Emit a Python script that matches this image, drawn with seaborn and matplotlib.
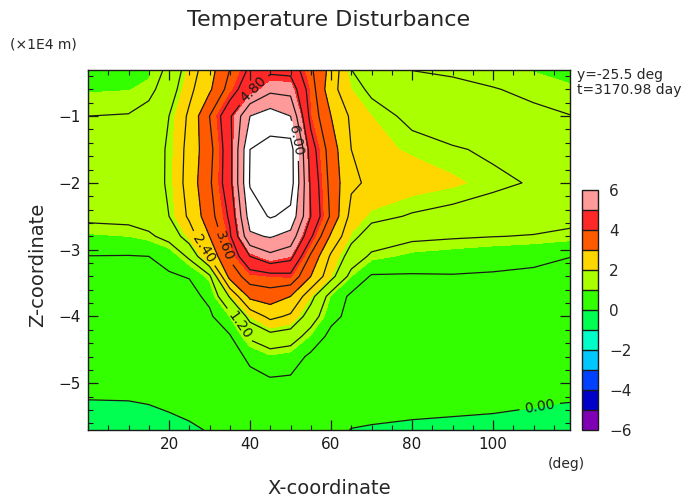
import numpy as np
import matplotlib
matplotlib.use("Agg")
import matplotlib.pyplot as plt
import matplotlib.cm as cm
from matplotlib.colors import ListedColormap, BoundaryNorm
from matplotlib.ticker import MultipleLocator
import seaborn as sns

# grid: x in deg, z in 1E4 m
x_deg = [0, 10, 15, 20, 25, 30, 35, 40, 45, 50, 55, 60, 65, 70, 80, 90, 100, 110, 120]
z_pos = [-0.3, -0.6, -1.0, -1.5, -2.0, -2.5, -2.8, -3.1, -3.4, -3.7, -4.0, -4.3, -4.6, -4.9, -5.3, -5.7]

# temperature disturbance, one row per z level
t_z03 = [0.90, 0.92, 0.95, 1.30, 2.10, 2.75, 3.60, 4.30, 4.65, 4.60, 3.70, 2.80, 1.80, 1.32, 1.18, 1.12, 1.05, 0.98, 0.93]
t_z06 = [0.97, 0.99, 1.05, 1.50, 2.25, 2.90, 3.85, 4.70, 5.25, 5.20, 3.90, 2.60, 2.00, 1.70, 1.50, 1.33, 1.22, 1.12, 1.02]
t_z10 = [1.20, 1.22, 1.40, 1.80, 2.50, 3.60, 4.70, 6.00, 6.30, 6.00, 4.00, 3.00, 2.30, 2.00, 1.68, 1.45, 1.35, 1.28, 1.20]
t_z15 = [1.50, 1.52, 1.60, 1.85, 2.60, 3.40, 4.60, 6.60, 6.80, 6.90, 4.50, 3.30, 2.40, 2.08, 1.96, 1.85, 1.72, 1.60, 1.50]
t_z20 = [1.60, 1.60, 1.62, 1.85, 2.65, 3.50, 4.60, 6.65, 7.20, 6.90, 4.70, 3.40, 2.50, 2.30, 2.15, 2.05, 1.90, 1.76, 1.65]
t_z25 = [1.32, 1.35, 1.50, 1.80, 2.50, 3.35, 4.30, 6.30, 6.65, 6.45, 4.80, 3.50, 2.20, 1.93, 1.76, 1.66, 1.55, 1.40, 1.33]
t_z28 = [0.95, 1.00, 1.10, 1.40, 2.10, 3.00, 4.10, 5.90, 6.05, 5.80, 4.30, 2.90, 1.95, 1.55, 1.30, 1.25, 1.21, 1.18, 1.10]
t_z31 = [0.59, 0.58, 0.60, 0.72, 1.30, 2.50, 3.70, 4.80, 5.25, 5.00, 3.50, 2.30, 1.55, 1.10, 0.92, 0.85, 0.77, 0.70, 0.60]
t_z34 = [0.50, 0.50, 0.52, 0.56, 0.62, 1.10, 3.20, 3.90, 4.00, 4.05, 3.00, 2.00, 1.00, 0.55, 0.55, 0.57, 0.55, 0.52, 0.50]
t_z37 = [0.45, 0.45, 0.46, 0.47, 0.46, 0.70, 1.85, 3.15, 3.30, 3.00, 2.00, 0.95, 0.50, 0.46, 0.45, 0.48, 0.47, 0.45, 0.43]
t_z40 = [0.40, 0.40, 0.40, 0.42, 0.43, 0.52, 1.00, 2.00, 2.55, 2.30, 1.50, 0.75, 0.45, 0.42, 0.42, 0.42, 0.41, 0.40, 0.38]
t_z43 = [0.35, 0.35, 0.35, 0.37, 0.38, 0.40, 0.55, 1.30, 1.60, 1.50, 0.95, 0.45, 0.38, 0.37, 0.37, 0.37, 0.36, 0.35, 0.33]
t_z46 = [0.30, 0.30, 0.30, 0.32, 0.33, 0.35, 0.38, 0.70, 0.95, 0.85, 0.50, 0.38, 0.34, 0.33, 0.33, 0.32, 0.32, 0.30, 0.28]
t_z49 = [0.20, 0.20, 0.22, 0.25, 0.28, 0.30, 0.35, 0.50, 0.61, 0.58, 0.42, 0.35, 0.32, 0.30, 0.28, 0.27, 0.26, 0.25, 0.22]
t_z53 = [-0.03, -0.02, 0.01, 0.06, 0.10, 0.15, 0.20, 0.20, 0.20, 0.20, 0.20, 0.20, 0.15, 0.12, 0.08, 0.06, 0.05, 0.02, -0.01]
t_z57 = [-0.25, -0.25, -0.20, -0.12, -0.05, 0.02, 0.10, 0.10, 0.10, 0.10, 0.10, 0.10, -0.01, -0.03, -0.05, -0.06, -0.08, -0.10, -0.12]

temp = np.array([t_z03, t_z06, t_z10, t_z15, t_z20, t_z25, t_z28, t_z31,
                 t_z34, t_z37, t_z40, t_z43, t_z46, t_z49, t_z53, t_z57])

fill_levels = list(range(-6, 7))
fill_colors = ['#7f00b4', '#0000c8', '#0041ff', '#00c8ff', '#00ffc8', '#00ff50',
               '#33ff00', '#aaff00', '#ffd700', '#ff5a00', '#ff2828', '#ff9a9a']
label_levels = [0.0, 1.2, 2.4, 3.6, 4.8, 6.0]
plain_levels = [0.6, 1.8, 3.0, 4.2, 5.4, 6.6]
cbar_ticks = [-6, -4, -2, 0, 2, 4, 6]
# where each labelled line gets its label (x, z)
label_spots = [(111.6, -5.37), (36.8, -4.15), (30.1, -2.93), (34.5, -2.93), (40.5, -0.58), (52.0, -1.36)]

sns.set_theme(style="ticks")
plt.rcParams['font.family'] = ['DejaVu Sans']
plt.rcParams['axes.unicode_minus'] = True

fig = plt.figure(figsize=(6.85, 5), dpi=100)
ax = fig.add_axes([88/685, 70/500, 482/685, 360/500])
ax.set_axisbelow(False)

cmap = ListedColormap(fill_colors)
cmap.set_over('white')
norm = BoundaryNorm(fill_levels, cmap.N)

ax.contourf(x_deg, z_pos, temp, levels=fill_levels, cmap=cmap, norm=norm, extend='max')
ax.contour(x_deg, z_pos, temp, levels=plain_levels, colors='k', linewidths=0.9)
for lev, spot in zip(label_levels, label_spots):
    cs = ax.contour(x_deg, z_pos, temp, levels=[lev], colors='k', linewidths=0.9)
    ax.clabel(cs, fmt='%.2f', fontsize=10, inline=True, manual=[spot])

ax.set_xlim(0, 119)
ax.set_ylim(-5.7, -0.31)
ax.set_xticks([20, 40, 60, 80, 100])
ax.xaxis.set_minor_locator(MultipleLocator(5))
ax.set_yticks([-1, -2, -3, -4, -5])
ax.yaxis.set_minor_locator(MultipleLocator(0.2))
ax.tick_params(which='both', direction='in', top=True, right=True, bottom=True, left=True,
               colors='k', labelsize=11)
ax.tick_params(which='major', length=7, width=0.9, pad=5)
ax.tick_params(which='minor', length=3.5, width=0.8)
for s in ax.spines.values():
    s.set_linewidth(1.0)
    s.set_color('k')

cax = fig.add_axes([582/685, 70/500, 16/685, 240/500])
sm = cm.ScalarMappable(norm=norm, cmap=cmap)
cb = fig.colorbar(sm, cax=cax, drawedges=True, ticks=cbar_ticks)
cb.outline.set_linewidth(1.0)
cb.outline.set_edgecolor('k')
cb.dividers.set_color('k')
cb.dividers.set_linewidth(1.0)
cb.minorticks_off()
cax.tick_params(which='both', length=0, labelsize=11, pad=8)

fig.text(329/685, 1 - 20/500, "Temperature Disturbance", ha='center', va='center', fontsize=16)
fig.text(10/685, 1 - 45/500, "(×1E4 m)", ha='left', va='center', fontsize=10)
fig.text(577/685, 1 - 75/500, "y=-25.5 deg", ha='left', va='center', fontsize=10)
fig.text(577/685, 1 - 90/500, "t=3170.98 day", ha='left', va='center', fontsize=10)
fig.text(548/685, 1 - 464/500, "(deg)", ha='left', va='center', fontsize=10)
fig.text(329/685, 1 - 488/500, "X-coordinate", ha='center', va='center', fontsize=14)
fig.text(38/685, 1 - 265/500, "Z-coordinate", ha='center', va='center', rotation=90, fontsize=14)

fig.savefig("out.png", dpi=100)
